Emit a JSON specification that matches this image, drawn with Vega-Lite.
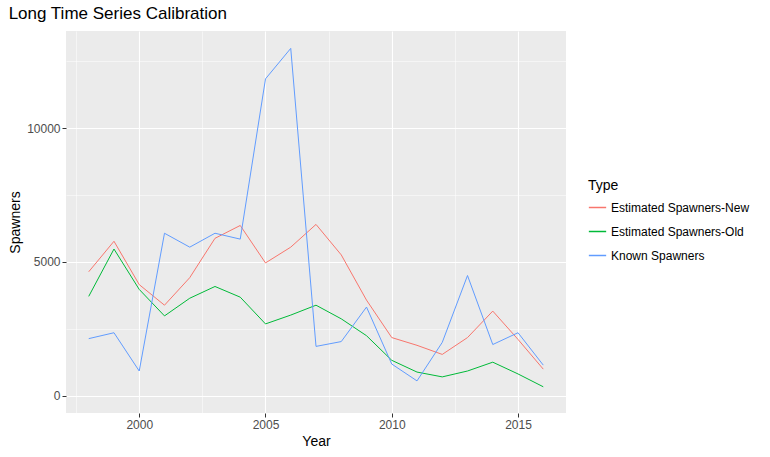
{
"$schema":"https://vega.github.io/schema/vega-lite/v6.json",
"width":500,"height":382,
"padding":{"left":8,"top":5,"right":5,"bottom":5},
"background":"white",
"title":{"text":"Long Time Series Calibration","anchor":"start","fontSize":17,"font":"Liberation Sans","fontWeight":"normal","color":"black","offset":8},
"config":{"view":{"fill":"#EBEBEB","stroke":null},"font":"Liberation Sans",
"axis":{"domain":false,"gridColor":"white","tickColor":"#333333","labelColor":"#4D4D4D","labelFontSize":12,"titleFontSize":14,"titleFontWeight":"normal","titleColor":"black","tickSize":4},
"legend":{"symbolType":"stroke","titleFontSize":14,"titleFontWeight":"normal","labelFontSize":12,"labelColor":"black","symbolStrokeWidth":1.5,"symbolSize":300,"rowPadding":8,"orient":"none","legendX":522,"legendY":148}},
"data":{"values":[
{"Year":1998,"Type":"Estimated Spawners-New","v":4630},{"Year":1999,"Type":"Estimated Spawners-New","v":5770},{"Year":2000,"Type":"Estimated Spawners-New","v":4150},{"Year":2001,"Type":"Estimated Spawners-New","v":3380},{"Year":2002,"Type":"Estimated Spawners-New","v":4410},{"Year":2003,"Type":"Estimated Spawners-New","v":5880},{"Year":2004,"Type":"Estimated Spawners-New","v":6360},{"Year":2005,"Type":"Estimated Spawners-New","v":4960},{"Year":2006,"Type":"Estimated Spawners-New","v":5550},{"Year":2007,"Type":"Estimated Spawners-New","v":6400},{"Year":2008,"Type":"Estimated Spawners-New","v":5260},{"Year":2009,"Type":"Estimated Spawners-New","v":3570},{"Year":2010,"Type":"Estimated Spawners-New","v":2170},{"Year":2011,"Type":"Estimated Spawners-New","v":1880},{"Year":2012,"Type":"Estimated Spawners-New","v":1540},{"Year":2013,"Type":"Estimated Spawners-New","v":2170},{"Year":2014,"Type":"Estimated Spawners-New","v":3160},{"Year":2015,"Type":"Estimated Spawners-New","v":2100},{"Year":2016,"Type":"Estimated Spawners-New","v":990},
{"Year":1998,"Type":"Estimated Spawners-Old","v":3710},{"Year":1999,"Type":"Estimated Spawners-Old","v":5480},{"Year":2000,"Type":"Estimated Spawners-Old","v":3970},{"Year":2001,"Type":"Estimated Spawners-Old","v":2980},{"Year":2002,"Type":"Estimated Spawners-Old","v":3640},{"Year":2003,"Type":"Estimated Spawners-Old","v":4080},{"Year":2004,"Type":"Estimated Spawners-Old","v":3680},{"Year":2005,"Type":"Estimated Spawners-Old","v":2680},{"Year":2006,"Type":"Estimated Spawners-Old","v":3010},{"Year":2007,"Type":"Estimated Spawners-Old","v":3380},{"Year":2008,"Type":"Estimated Spawners-Old","v":2870},{"Year":2009,"Type":"Estimated Spawners-Old","v":2240},{"Year":2010,"Type":"Estimated Spawners-Old","v":1320},{"Year":2011,"Type":"Estimated Spawners-Old","v":880},{"Year":2012,"Type":"Estimated Spawners-Old","v":700},{"Year":2013,"Type":"Estimated Spawners-Old","v":920},{"Year":2014,"Type":"Estimated Spawners-Old","v":1250},{"Year":2015,"Type":"Estimated Spawners-Old","v":810},{"Year":2016,"Type":"Estimated Spawners-Old","v":330},
{"Year":1998,"Type":"Known Spawners","v":2130},{"Year":1999,"Type":"Known Spawners","v":2350},{"Year":2000,"Type":"Known Spawners","v":920},{"Year":2001,"Type":"Known Spawners","v":6070},{"Year":2002,"Type":"Known Spawners","v":5550},{"Year":2003,"Type":"Known Spawners","v":6070},{"Year":2004,"Type":"Known Spawners","v":5850},{"Year":2005,"Type":"Known Spawners","v":11840},{"Year":2006,"Type":"Known Spawners","v":12980},{"Year":2007,"Type":"Known Spawners","v":1840},{"Year":2008,"Type":"Known Spawners","v":2020},{"Year":2009,"Type":"Known Spawners","v":3310},{"Year":2010,"Type":"Known Spawners","v":1180},{"Year":2011,"Type":"Known Spawners","v":550},{"Year":2012,"Type":"Known Spawners","v":1990},{"Year":2013,"Type":"Known Spawners","v":4490},{"Year":2014,"Type":"Known Spawners","v":1910},{"Year":2015,"Type":"Known Spawners","v":2350},{"Year":2016,"Type":"Known Spawners","v":1140}
]},
"mark":{"type":"line","strokeWidth":1},
"encoding":{
"x":{"field":"Year","type":"quantitative","scale":{"domain":[1997.1,2016.9],"nice":false,"zero":false},
 "axis":{"values":[1997.5,2000,2002.5,2005,2007.5,2010,2012.5,2015],"labelExpr":"datum.value % 5 === 0 ? datum.value : ''","tickSize":{"condition":{"test":"datum.value % 5 === 0","value":4},"value":0},"gridWidth":{"condition":{"test":"datum.value % 5 === 0","value":1.1},"value":0.5},"title":"Year","labelFlush":false}},
"y":{"field":"v","type":"quantitative","scale":{"domain":[-650,13630],"nice":false,"zero":false},
 "axis":{"values":[0,2500,5000,7500,10000,12500],"labelExpr":"datum.value % 5000 === 0 ? datum.value : ''","tickSize":{"condition":{"test":"datum.value % 5000 === 0","value":4},"value":0},"gridWidth":{"condition":{"test":"datum.value % 5000 === 0","value":1.1},"value":0.5},"title":"Spawners","labelFlush":false}},
"color":{"field":"Type","type":"nominal","scale":{"range":["#F8766D","#00BA38","#619CFF"]},"legend":{"title":"Type"}}
}
}
